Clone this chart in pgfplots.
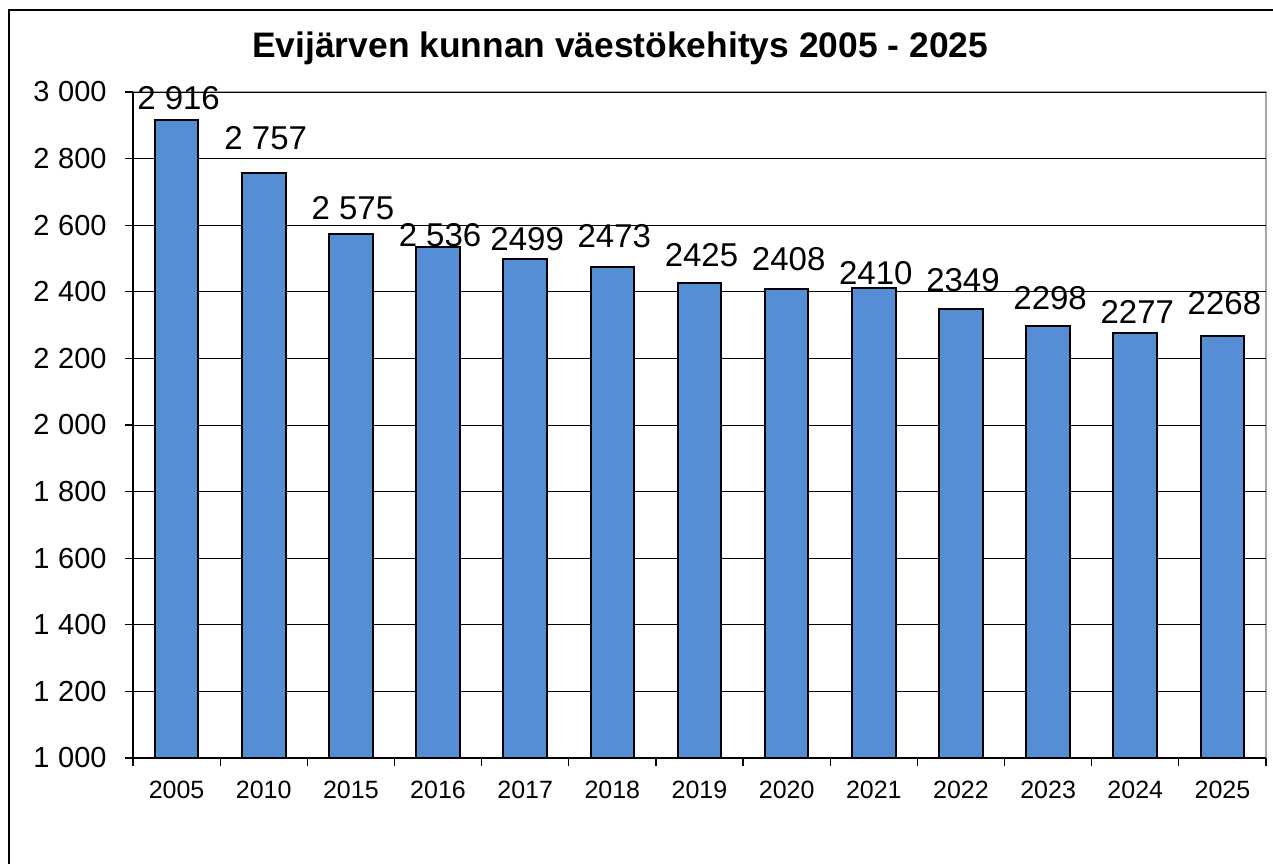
\documentclass[border=0pt]{standalone}
\usepackage{fontspec}
\setmainfont{Liberation Sans}
\usepackage{pgfplots}
\usepackage{pgfplotstable}
\pgfplotsset{compat=1.18}
\definecolor{barblue}{RGB}{85,142,213}
\pgfplotstableread[col sep=comma]{
x,y,lab,off
0,2916,2 916,11
1,2757,2 757,17.5
2,2575,2 575,12.75
3,2536,2 536,5.75
4,2499,2499,10
5,2473,2473,15.5
6,2425,2425,14.25
7,2408,2408,15
8,2410,2410,7.75
9,2349,2349,14.5
10,2298,2298,14
11,2277,2277,10.5
12,2268,2268,16.5
}\datatable
\begin{document}
\begin{tikzpicture}
\path[use as bounding box] (-66.5pt,-52.5pt) rectangle (570pt,379pt);
\draw[line width=0.8pt] (-62pt,-60pt) -- (-62pt,374pt) -- (580pt,374pt);
\begin{axis}[
  at={(0,0)}, anchor=south west,
  scale only axis, width=566.5pt, height=333pt,
  xmin=-0.5, xmax=12.5, ymin=1000, ymax=3000,
  ytick={1000,1200,...,3000},
  scaled y ticks=false,
  /pgf/number format/assume math mode=true,
  /pgf/number format/1000 sep={\hspace{0.3em}},
  ymajorgrids, grid style={black, line width=0.5pt},
  axis lines=left, axis line style={-, black, line width=0.6pt},
  axis background/.style={draw=gray!70, line width=0.8pt},
  tick align=outside, major tick length=4pt, tick style={black, line width=0.6pt},
  xtick={-0.5,0.5,...,12.5}, xticklabels={},
  extra x ticks={0,1,...,12},
  extra x tick labels={2005,2010,2015,2016,2017,2018,2019,2020,2021,2022,2023,2024,2025},
  extra x tick style={major tick length=0pt, grid=none, tick label style={yshift=-8pt}},
  xticklabel style={font=\fontsize{12.5}{13}\selectfont},
  yticklabel style={font=\fontsize{14.5}{15}\selectfont, xshift=-5.7pt},
  title={Evijärven kunnan väestökehitys 2005 - 2025},
  title style={font=\bfseries\fontsize{17.7}{19}\selectfont, at={(0.43,1)}, anchor=center, yshift=16pt},
  ybar, bar width=0.5,
]
\addplot[fill=barblue, draw=black, line width=1pt,
  nodes near coords, point meta=explicit symbolic,
  visualization depends on={\thisrow{off} \as \labeloff},
  every node near coord/.append style={anchor=center, xshift=1pt, yshift=\labeloff*1pt, font=\fontsize{16.5}{17}\selectfont, text=black}]
  table[x=x, y=y, meta=lab] {\datatable};
\end{axis}
\end{tikzpicture}
\end{document}
